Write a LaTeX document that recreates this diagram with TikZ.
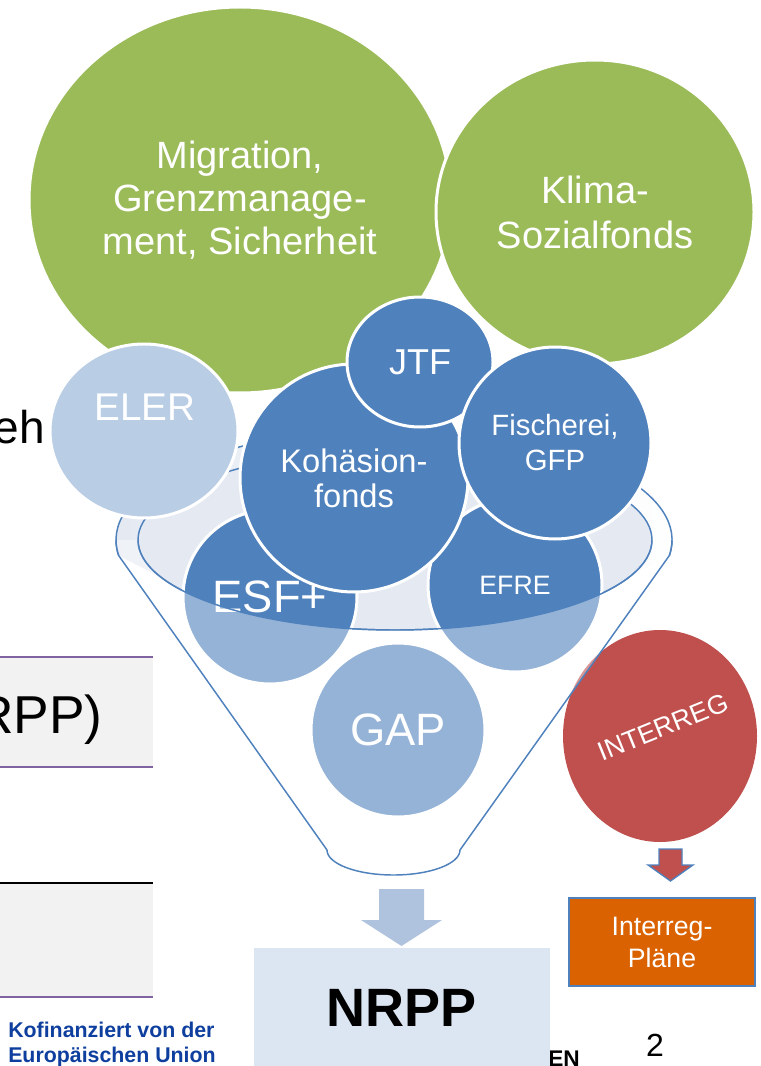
\documentclass[tikz,border=0pt]{standalone}
\usepackage{fontspec}
\setmainfont{Liberation Sans}
\usetikzlibrary{shapes.geometric}

\definecolor{fgreen}{HTML}{9BBB59}
\definecolor{fblue}{HTML}{4F81BD}
\definecolor{flight}{HTML}{B9CDE5}
\definecolor{fred}{HTML}{C0504D}
\definecolor{forange}{HTML}{DA6200}
\definecolor{mouthfill}{HTML}{E4E9F2}
\definecolor{nrppfill}{HTML}{DCE6F2}
\definecolor{arrowblue}{HTML}{AFC2DE}
\definecolor{slidegray}{HTML}{F2F2F2}
\definecolor{slidepurple}{HTML}{8064A2}
\definecolor{eublue}{HTML}{0E3F9E}

\newcommand\fsz[2]{\fontsize{#1}{#2}\selectfont}

\tikzset{
  fund/.style={ellipse, inner sep=0pt, draw=white, line width=2.25pt,
               text=white, align=center},
  funnelline/.style={draw=fblue, line width=1.1pt},
  slidetext/.style={inner sep=0pt, text=black},
}

\begin{document}
\begin{tikzpicture}[x=0.75pt, y=0.75pt]
\useasboundingbox (0,0) rectangle (760,-1066);
\clip (0,0) rectangle (760,-1066);

% --- slide content at the left edge ---
\node[slidetext, anchor=base east, font=\fsz{34.5pt}{40pt}] (eh) at (45,-443) {eh};
\fill[slidegray] (0,-657) rectangle (153,-767);
\draw[slidepurple, line width=1.5pt] (0,-657) -- (153,-657);
\draw[slidepurple, line width=1.5pt] (0,-767) -- (153,-767);
\node[slidetext, anchor=base east, font=\fsz{40pt}{44pt}] (rpp) at (103,-733) {RPP)};
\fill[slidegray] (0,-883) rectangle (153,-997);
\draw[black, line width=1.5pt] (0,-883) -- (153,-883);
\draw[slidepurple, line width=1.5pt] (0,-997) -- (153,-997);

\node[anchor=base west, inner sep=0pt, text=eublue, font=\bfseries\fsz{16pt}{19pt}] (eu1) at (8,-1037) {Kofinanziert von der};
\node[anchor=base west, inner sep=0pt, text=eublue, font=\bfseries\fsz{16pt}{19pt}] (eu2) at (8,-1062) {Europäischen Union};

% --- green funds ---
\node[fund, fill=fgreen, minimum width=316.5pt, minimum height=289.5pt,
      font=\fsz{28.5pt}{32.25pt}] (mig) at (240,-200)
      {Migration,\\Grenzmanage-\\ment, Sicherheit};
\node[fund, fill=fgreen, minimum width=238.5pt, minimum height=228pt,
      font=\fsz{28.5pt}{33.75pt}] (klima) at (595,-212)
      {Klima-\\Sozialfonds};

% --- funnel, back part: rim and mouth ---
\coordinate (mouthc) at (395,-540);
\shade[left color=mouthfill, right color=white]
  (669.3,-555.6) arc[start angle=-8, end angle=188, x radius=278, y radius=112]
  -- (162,-578) arc[start angle=205, end angle=335, x radius=257, y radius=90]
  -- cycle;
\draw[funnelline] (669.3,-555.6) arc[start angle=-8, end angle=188, x radius=278, y radius=112];
\filldraw[fill=mouthfill, funnelline] (mouthc) ellipse [x radius=257, y radius=90];

% --- blue funds ---
\node[fund, fill=flight, minimum width=141pt, minimum height=130.5pt] (eler) at (144,-431) {};
\node[inner sep=0pt, text=white, font=\fsz{29pt}{32pt}] (elert) at (145,-407) {ELER};

\node[fund, fill=fblue, minimum width=130.5pt, minimum height=130.5pt,
      font=\fsz{34pt}{38pt}] (esf) at (270,-597) {ESF+};
\node[fund, fill=fblue, minimum width=130.5pt, minimum height=130.5pt,
      font=\fsz{20pt}{24pt}] (efre) at (515,-585) {EFRE};
\node[fund, fill=fblue, minimum width=171pt, minimum height=171pt,
      font=\fsz{24.5pt}{26.25pt}] (koh) at (354,-478) {Kohäsion-\\fonds};
\node[fund, fill=fblue, minimum width=109.5pt, minimum height=97.5pt,
      font=\fsz{27pt}{30pt}] (jtf) at (420,-362) {JTF};
\node[fund, fill=fblue, minimum width=144pt, minimum height=144pt,
      font=\fsz{22pt}{26.25pt}] (fisch) at (555,-443) {Fischerei,\\GFP};

\node[fund, fill=fblue, minimum width=130.5pt, minimum height=130.5pt,
      font=\fsz{34pt}{38pt}] (gap) at (398,-730) {GAP};

\node[ellipse, inner sep=0pt, fill=fred, minimum width=145.5pt, minimum height=159pt] (interreg) at (660,-736) {};
\node[inner sep=0pt, rotate=22, text=white, font=\fsz{20pt}{24pt}] (interregt) at (663,-727) {INTERREG};

% --- funnel, front part: translucent body over the funds ---
\fill[white, fill opacity=0.4]
  (138,-540) arc[start angle=180, end angle=360, x radius=257, y radius=90]
  -- (672,-540) arc[start angle=0, end angle=-8, x radius=278, y radius=112]
  -- (460,-850) arc[start angle=0, end angle=-180, x radius=66.5, y radius=25]
  -- (118.7,-555.6) arc[start angle=188, end angle=180, x radius=278, y radius=112]
  -- cycle;
\draw[funnelline] (138,-540) arc[start angle=180, end angle=360, x radius=257, y radius=90];
\draw[funnelline]
  (672,-540) arc[start angle=0, end angle=-8, x radius=278, y radius=112]
  -- (460,-850) arc[start angle=0, end angle=-180, x radius=66.5, y radius=25]
  -- (118.7,-555.6) arc[start angle=188, end angle=180, x radius=278, y radius=112];

% --- outputs ---
\node[slidetext, anchor=base east, font=\bfseries\fsz{17pt}{20pt}] (en) at (580,-1066) {EN};

\fill[arrowblue] (379,-889) -- (424,-889) -- (424,-920) -- (442,-920)
  -- (401.5,-946) -- (361,-920) -- (379,-920) -- cycle;
\node[fill=nrppfill, inner sep=0pt, minimum width=222pt, minimum height=90pt,
      font=\bfseries\fsz{40.5pt}{44pt}] (nrpp) at (402,-1008) {NRPP};

\filldraw[fill=fred, draw=fblue, line width=1pt] (659,-849) -- (682,-849) -- (682,-865)
  -- (693,-865) -- (670.5,-881) -- (648,-865) -- (659,-865) -- cycle;
\node[fill=forange, draw=fblue, line width=1.5pt, minimum width=139.5pt, minimum height=66pt,
      text=white, align=center, font=\fsz{20pt}{24pt}] (plaene) at (662,-942) {Interreg-\\Pläne};

\node[slidetext, font=\fsz{24pt}{28pt}] (page) at (655,-1045) {2};
\end{tikzpicture}
\end{document}
